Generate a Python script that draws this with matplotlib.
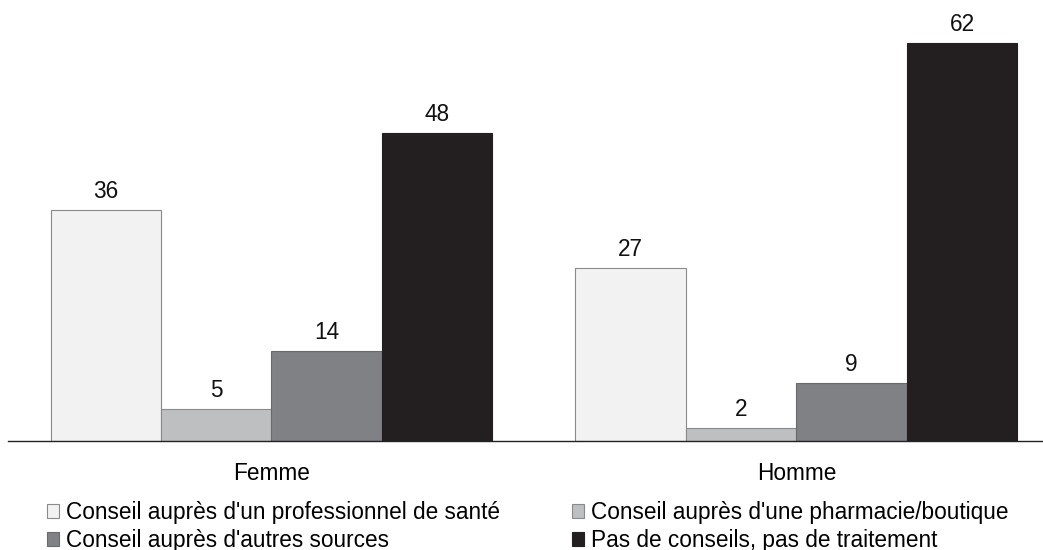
import matplotlib
matplotlib.use("Agg")
import matplotlib.pyplot as plt
from matplotlib.patches import Patch
import numpy as np

plt.rcParams['font.family'] = ['Liberation Sans', 'DejaVu Sans']

categories = ["Femme", "Homme"]
series_names = [
    "Conseil auprès d'un professionnel de santé",
    "Conseil auprès d'une pharmacie/boutique",
    "Conseil auprès d'autres sources",
    "Pas de conseils, pas de traitement",
]
values = [
    [36, 27],
    [5, 2],
    [14, 9],
    [48, 62],
]
colors = ["#f1f2f1", "#bebfc1", "#808184", "#231f20"]
edgecolors = ["#8a8a8a", "#8a8a8a", "#6a6a6a", "#231f20"]

FS = 16.3

fig = plt.figure(figsize=(10.43, 5.5), dpi=100)
ax = fig.add_axes([8/1043, 109/550, 1 - 8/1043, 1 - 109/550])

x = np.arange(len(categories))
width = 0.2105
n = len(series_names)
handles = []
for i, (name, vals) in enumerate(zip(series_names, values)):
    pos = x + (i - (n - 1) / 2) * width
    bars = ax.bar(pos, vals, width, color=colors[i], edgecolor=edgecolors[i],
                  linewidth=0.8, label=name, zorder=2)
    for b, v in zip(bars, vals):
        ax.text(b.get_x() + b.get_width() / 2, v + 1.1, str(v),
                ha='center', va='bottom', fontsize=FS, color='#111111')
    handles.append(Patch(facecolor=colors[i], edgecolor=edgecolors[i], linewidth=0.8, label=name))

ax.set_xlim(-0.502, 1.47)
ax.set_ylim(0, 68.7)
for s in ['top', 'right', 'left']:
    ax.spines[s].set_visible(False)
ax.spines['bottom'].set_color('#222222')
ax.spines['bottom'].set_linewidth(1.0)
ax.set_yticks([])
ax.set_xticks(x)
ax.set_xticklabels(categories, fontsize=FS)
ax.tick_params(axis='x', length=0, pad=15)

order = [0, 2, 1, 3]
leg = fig.legend([handles[k] for k in order], [series_names[k] for k in order],
                 ncol=2, loc='upper left', bbox_to_anchor=(47/1043, 1 - 501/550),
                 frameon=False, fontsize=FS, handlelength=0.55, handleheight=0.55,
                 handletextpad=0.27, columnspacing=3.2, labelspacing=0.22,
                 borderaxespad=0, borderpad=0)

fig.savefig("out.png", dpi=100)
